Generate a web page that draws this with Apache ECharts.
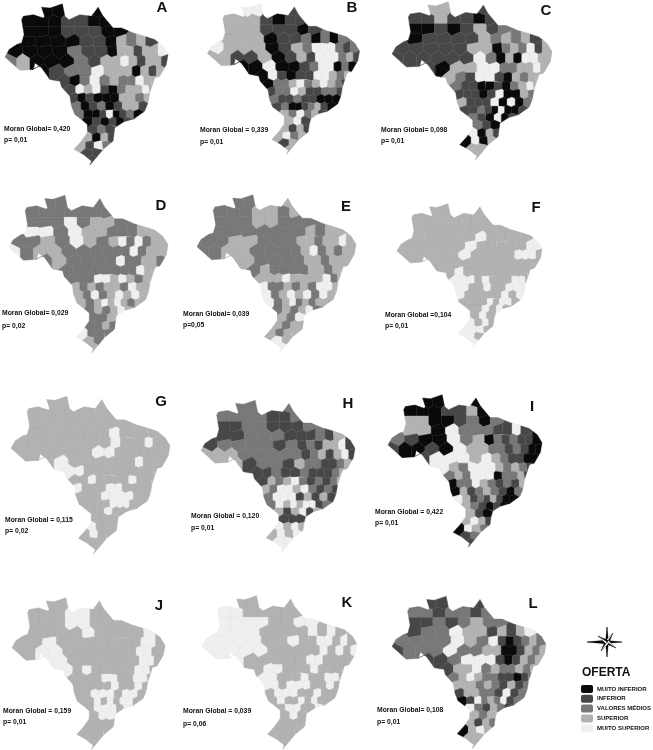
<!DOCTYPE html>
<html>
<head>
<meta charset="utf-8">
<style>html,body{margin:0;padding:0;background:#fff}#main{width:653px;height:750px;filter:blur(0.3px)}</style>
<script src="https://cdn.jsdelivr.net/npm/echarts@6/dist/echarts.min.js"></script>
</head>
<body>
<div id="main"></div>
<script>
// contorno do Brasil [lon, lat]
const outline = [[-72.8,-8.5],[-71.8,-6.7],[-70,-5.5],[-68.8,-5.1],[-68.2,-3.1],[-68.8,0.5],[-68.4,1.3],[-66,1.7],[-63.6,0.9],[-63.2,1.3],[-64,3.5],[-62,3.3],[-59,4.3],[-58.4,1.3],[-57.4,0.5],[-54.8,1.7],[-52,1.3],[-50.4,3.5],[-49.2,1.3],[-46.8,-1.5],[-44.8,-1.5],[-42,-2.7],[-39.2,-3.5],[-36.8,-4.3],[-34.8,-5.9],[-33.6,-7.9],[-34,-10.3],[-35.6,-13.1],[-36.8,-13.5],[-38,-17.1],[-38.4,-19.5],[-39.2,-21.5],[-42,-23.5],[-44.4,-24.1],[-46.4,-25.5],[-46.8,-28.7],[-49.2,-30.7],[-51.2,-33.1],[-52.4,-34.5],[-52,-33.5],[-54,-31.9],[-56.2,-30.7],[-54.4,-28.7],[-53,-26.7],[-53,-24.7],[-54.4,-23.5],[-56,-22.3],[-56.8,-20.3],[-57.2,-17.9],[-59.2,-15.7],[-59.6,-14.3],[-62,-13.9],[-64,-11.1],[-65.6,-9.9],[-66,-11.5],[-69.2,-11.7],[-71.2,-9.9]];

// centros das regioes, por faixa de latitude: [lat, [lons]]
const regionRows = [
  [2.5, [-62.8,-60,-50.4]],
  [0.1, [-67.2,-64,-60.8,-57.6,-54.4,-51.2,-48.8]],
  [-2.3, [-67.2,-64,-60.8,-57.6,-54.4,-51.2,-48,-45.6]],
  [-4.7, [-67.2,-63.6,-60,-56.4,-53.2,-50,-47.2,-44.8,-42.4,-40,-38]],
  [-7.1, [-70.4,-66.8,-63.2,-59.6,-56,-52.8,-49.6,-46.8,-44.8,-42.8,-40.8,-38.8,-36.8,-35.2]],
  [-9.5, [-71.6,-68.4,-65.2,-61.6,-58,-54.4,-51.2,-48.4,-46,-44,-42,-40,-38,-36,-34.4]],
  [-11.9, [-64,-60.4,-56.8,-53.6,-50.4,-47.6,-45.2,-43.2,-41.2,-39.2,-37.2,-35.6]],
  [-14.3, [-58.4,-56,-53.6,-51.2,-48.8,-46.4,-44.4,-42.4,-40.4,-38.4,-36.8]],
  [-16.3, [-56.8,-54.8,-52.8,-50.8,-48.8,-46.8,-44.8,-42.8,-40.8,-38.8,-37.6]],
  [-18.3, [-56.2,-54.4,-52.4,-50.4,-48.4,-46.4,-44.4,-42.4,-40.4,-38.4]],
  [-20.3, [-55.4,-53.6,-51.6,-49.6,-47.6,-45.6,-43.6,-41.6,-39.6]],
  [-22.3, [-54.8,-52.8,-50.8,-49.2,-47.6,-46,-44.4,-42.8,-40.8]],
  [-23.9, [-52.8,-50.8,-48.8,-46.8,-45.2,-43.2]],
  [-25.9, [-51.6,-49.6,-47.6]],
  [-27.9, [-52.8,-50.8,-48.8,-47.2]],
  [-29.7, [-54.4,-52.4,-50.4,-48.4]],
  [-31.5, [-52.8,-50.8]],
  [-33.3, [-51.6]]
];

// classe de oferta de cada regiao em cada mapa (0 muito inferior ... 4 muito superior)
const classesA = ["000","0001100","00011100","00001103231","00002110331334","230002133431331","012243330313","10242322433","14341023343","1010003323","201201331","200140120","010101","121","3031","3142","11","1"];
const classesB = ["441","3331011","33311101","33301120202","43330132444212","331130131444231","004001244020","04101144323","02234234321","1224311221","211211000","120012310","324231","341","3131","3423","13","3"];
const classesC = ["331","1131101","00101312","01111323231","11111330232413","111111420304433","103344223343","32144103233","21100102343","1110140032","311140402","112104001","210401","210","4031","0403","33","3"];
const classesD = ["222","2222222","22242332","44243322233","22324323424233","423322222242333","232222422332","22222222433","22244343233","3232332433","324234343","323434323","232343","223","2232","4222","32","3"];
const classesE = ["223","2223323","22233222","22222223233","22332223323343","223322223423233","332222332333","23222233233","33343333423","4223232443","423434243","423423233","232342","324","3233","3233","43","4"];
const classesF = ["333","3333333","33333333","33333433333","33333433333344","333334333334443","333333333333","34333333333","44434333443","4433433444","433333434","333343443","334343","343","4343","4443","43","4"];
const classesG = ["333","3333333","33333333","33333343333","33333334333433","333333443333333","343333334333","44333333333","33433334333","4333443333","333444433","333344433","334333","333","4333","3433","33","3"];
const classesH = ["222","2222112","11221112","11222111213","12222121213341","333222221231341","312213221123","11211211123","13234212123","3244342121","244413131","243434412","313413","111","4343","3434","44","4"];
const classesI = ["000","0001130","33001202","33042221141","21004230212110","100104332212100","144434321100","43244432321","23244402231","0224321213","031232102","431213100","321010","310","3431","0432","12","1"];
const classesJ = ["333","3334433","33344333","33334333334","33433333333443","334433333334433","443333333443","43433333443","33334433443","3333343343","334443443","334343443","344434","344","3333","3333","33","3"];
const classesK = ["333","4433333","44443344","44433334343","44443343344343","444443333343434","433333443333","34433343333","44333433443","4434443343","344433433","343343433","344334","343","3333","3333","33","3"];
const classesL = ["111","2212212","11212322","12243313134","22224324101232","122242233001323","112444101323","13342322323","23432211012","3332321312","133221412","014232412","421321","323","3132","0343","33","3"];

const panelNames = ["A","B","C","D","E","F","G","H","I","J","K","L"];
const moranTexts = ["Moran Global= 0,420","Moran Global = 0,339","Moran Global= 0,098","Moran Global= 0,029","Moran Global= 0,039","Moran Global =0,104","Moran Global = 0,115","Moran Global = 0,120","Moran Global = 0,422","Moran Global = 0,159","Moran Global = 0,039","Moran Global= 0,108"];
const pTexts = ["p= 0,01","p= 0,01","p= 0,01","p= 0,02","p=0,05","p= 0,01","p= 0,02","p= 0,01","p= 0,01","p= 0,01","p= 0,06","p= 0,01"];
const legendLabels = ["MUITO INFERIOR","INFERIOR","VALORES MÉDIOS","SUPERIOR","MUITO SUPERIOR"];
const legendColors = ["#0a0a0a","#474747","#787878","#b2b2b2","#efefef"];
// linha entre regioes da mesma classe, quase da cor do preenchimento
const borderColors = ["#0a0a0a","#4c4c4c","#6f6f6f","#a6a6a6","#e2e2e2"];

const allClasses = [classesA,classesB,classesC,classesD,classesE,classesF,classesG,classesH,classesI,classesJ,classesK,classesL];

// layout: caixa de cada mapa [x0,y0,x1,y1], letra [x,y], texto [x,y1,y2]
const boxes = [[5,3,168,166],[209,3,358,155],[392,2,552,160],[9,195,168,353],[197,197,356,350],[397,203,542,348],[11,397,170,553],[201,400,355,553],[388,394,542,548],[12,598,165,749],[202,596,357,749],[392,596,546,749]];
const letterPos = [[162,8],[352,8],[546,11],[161,206],[346,207],[536,208],[161,402],[348,404],[532,407],[159,606],[347,603],[533,604]];
const textPos = [[4,129,140],[200,130,142],[381,130,141],[2,313,326],[183,314,325],[385,315,326],[5,520,531],[191,516,528],[375,512,523],[3,711,722],[183,711,724],[377,710,722]];

// recorta o poligono pelo semiplano mais perto de a do que de b
function clipHalf(poly, a, b) {
  const mx = (a[0]+b[0])/2, my = (a[1]+b[1])/2, nx = a[0]-b[0], ny = a[1]-b[1];
  const side = p => (p[0]-mx)*nx + (p[1]-my)*ny;
  const out = [];
  for (let i = 0; i < poly.length; i++) {
    const p = poly[i], q = poly[(i+1)%poly.length], sp = side(p), sq = side(q);
    if (sp >= 0) out.push(p);
    if (sp*sq < 0) {
      const t = sp/(sp-sq);
      out.push([p[0]+(q[0]-p[0])*t, p[1]+(q[1]-p[1])*t]);
    }
  }
  return out;
}

const seeds = [];
regionRows.forEach(([lat, lons], r) => lons.forEach((lon, c) => seeds.push({name: "r"+r+"c"+c, r, c, at: [lon, lat]})));

const features = seeds.map(s => {
  let poly = outline;
  seeds.forEach(o => { if (o !== s && poly.length) poly = clipHalf(poly, s.at, o.at); });
  return {type: "Feature", properties: {name: s.name}, geometry: {type: "Polygon", coordinates: [poly.concat([poly[0]])]}};
});
// series de mapa com o mesmo nome sao fundidas, entao cada painel registra o seu
panelNames.forEach(n => echarts.registerMap("brasil" + n, {type: "FeatureCollection", features}));

const series = allClasses.map((rows, i) => {
  const b = boxes[i];
  return {
    type: "map", map: "brasil" + panelNames[i], name: panelNames[i], aspectScale: 1, silent: true,
    layoutCenter: [(b[0]+b[2])/2, (b[1]+b[3])/2], layoutSize: Math.max(b[2]-b[0], b[3]-b[1]),
    label: {show: false},
    itemStyle: {borderWidth: 0.4},
    data: seeds.map(s => {
      const value = Number(rows[s.r][s.c]);
      return {name: s.name, value, itemStyle: {borderColor: borderColors[value]}};
    })
  };
});

const graphics = [];
const addText = (x, y, text, size, font, align) => graphics.push({
  type: "text", x, y, silent: true,
  style: {text, fill: "#111", font: "bold " + size + "px " + (font || "Liberation Sans"), textAlign: align || "left", textVerticalAlign: "middle"}
});
panelNames.forEach((n, i) => {
  addText(letterPos[i][0], letterPos[i][1], n, 15, "Liberation Sans", "center");
  addText(textPos[i][0], textPos[i][1], moranTexts[i], 6.8);
  addText(textPos[i][0], textPos[i][2], pTexts[i], 6.8);
});
addText(582, 673, "OFERTA", 12);

// rosa dos ventos
const cx = 607, cy = 642;
const spike = (dx, dy, w, fill) => graphics.push({
  type: "polygon", silent: true,
  shape: {points: [[cx+dx, cy+dy], [cx-dy*w, cy+dx*w], [cx, cy]]},
  style: {fill, stroke: "#000", lineWidth: 0.3}
});
[[0,-15],[15,0],[0,15],[-20,0]].forEach(([dx,dy]) => { spike(dx,dy,0.1,"#000"); spike(dx,dy,-0.1,"#000"); });
[[6,-9],[9,6],[-6,9],[-9,-6]].forEach(([dx,dy]) => { spike(dx,dy,0.2,"#000"); spike(dx,dy,-0.2,"#fff"); });

const chart = echarts.init(document.getElementById("main"));
chart.setOption({
  animation: false,
  backgroundColor: "#fff",
  visualMap: {
    type: "piecewise", seriesIndex: series.map((s, i) => i), left: 566, top: 670, orient: "vertical", inverse: true,
    itemWidth: 12, itemHeight: 8, itemGap: 1.8, textGap: 4, selectedMode: false, hoverLink: false, align: "left",
    textStyle: {color: "#111", fontSize: 6, fontWeight: "bold", fontFamily: "Liberation Sans"},
    pieces: legendLabels.map((label, i) => ({value: i, label, color: legendColors[i]}))
  },
  series,
  graphic: graphics
});
</script>
</body>
</html>
